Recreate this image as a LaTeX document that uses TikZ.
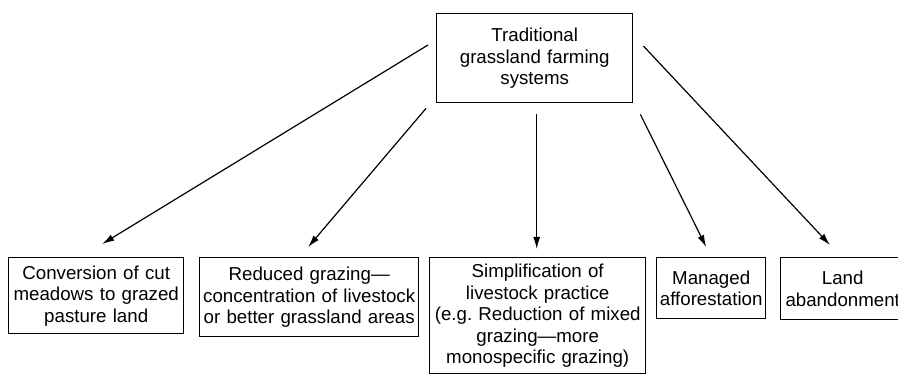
\documentclass[tikz,border=0pt]{standalone}
\usepackage{fontspec}
\setmainfont{Liberation Sans}
\usetikzlibrary{arrows.meta}

\tikzset{
  box/.style={draw, line width=1.4pt, align=center, anchor=north west,
    inner sep=2pt, font=\fontsize{18.7}{21.5}\selectfont},
  link/.style={->, line width=1.2pt}
}

\begin{document}
\begin{tikzpicture}[x=1pt,y=-1pt,>={Latex[length=12pt,width=7pt]}]
    \clip (0,0) rectangle (898,374);
    % --- top: the starting system
    \node[box, text width=192pt, minimum height=89pt] (trad) at (436,13)
      {Traditional\\grassland farming\\systems};
    % --- bottom row: the five pathways
    \node[box, text width=171pt, minimum height=76pt] (conv) at (8,257)
      {Conversion of cut\\meadows to grazed\\pasture land};
    \node[box, text width=215pt, minimum height=79pt] (redu) at (199,257)
      {Reduced grazing—\\concentration of livestock\\or better grassland areas};
    \node[box, text width=212pt, minimum height=116pt] (simp) at (429,257)
      {Simplification of\\livestock practice\\(e.g.\ Reduction of mixed\\grazing—more\\monospecific grazing)};
    \node[box, text width=105pt, minimum height=61pt] (mana) at (656,257)
      {Managed\\afforestation};
    \node[box, text width=120pt, minimum height=62pt] (aban) at (780,257)
      {Land\\abandonment};
    % --- arrow ends, kept a little off the boxes
    \coordinate (s1) at ([shift={(-8,32)}]trad.north west);
    \coordinate (s2) at ([shift={(-10,5)}]trad.south west);
    \coordinate (s3) at ([shift={(2,11)}]trad.south);
    \coordinate (s4) at ([shift={(7,11)}]trad.south east);
    \coordinate (s5) at ([shift={(10,33)}]trad.north east);
    \coordinate (e1) at ([shift={(6,-13)}]conv.north);
    \coordinate (e2) at ([shift={(-1,-10)}]redu.north);
    \coordinate (e3) at ([shift={(-1,-8)}]simp.north);
    \coordinate (e4) at ([shift={(-5,-10)}]mana.north);
    \coordinate (e5) at ([shift={(50,-12)}]aban.north west);
    \foreach \i in {1,...,5}
      \draw[link] (s\i) -- (e\i);
  \end{tikzpicture}
\end{document}
